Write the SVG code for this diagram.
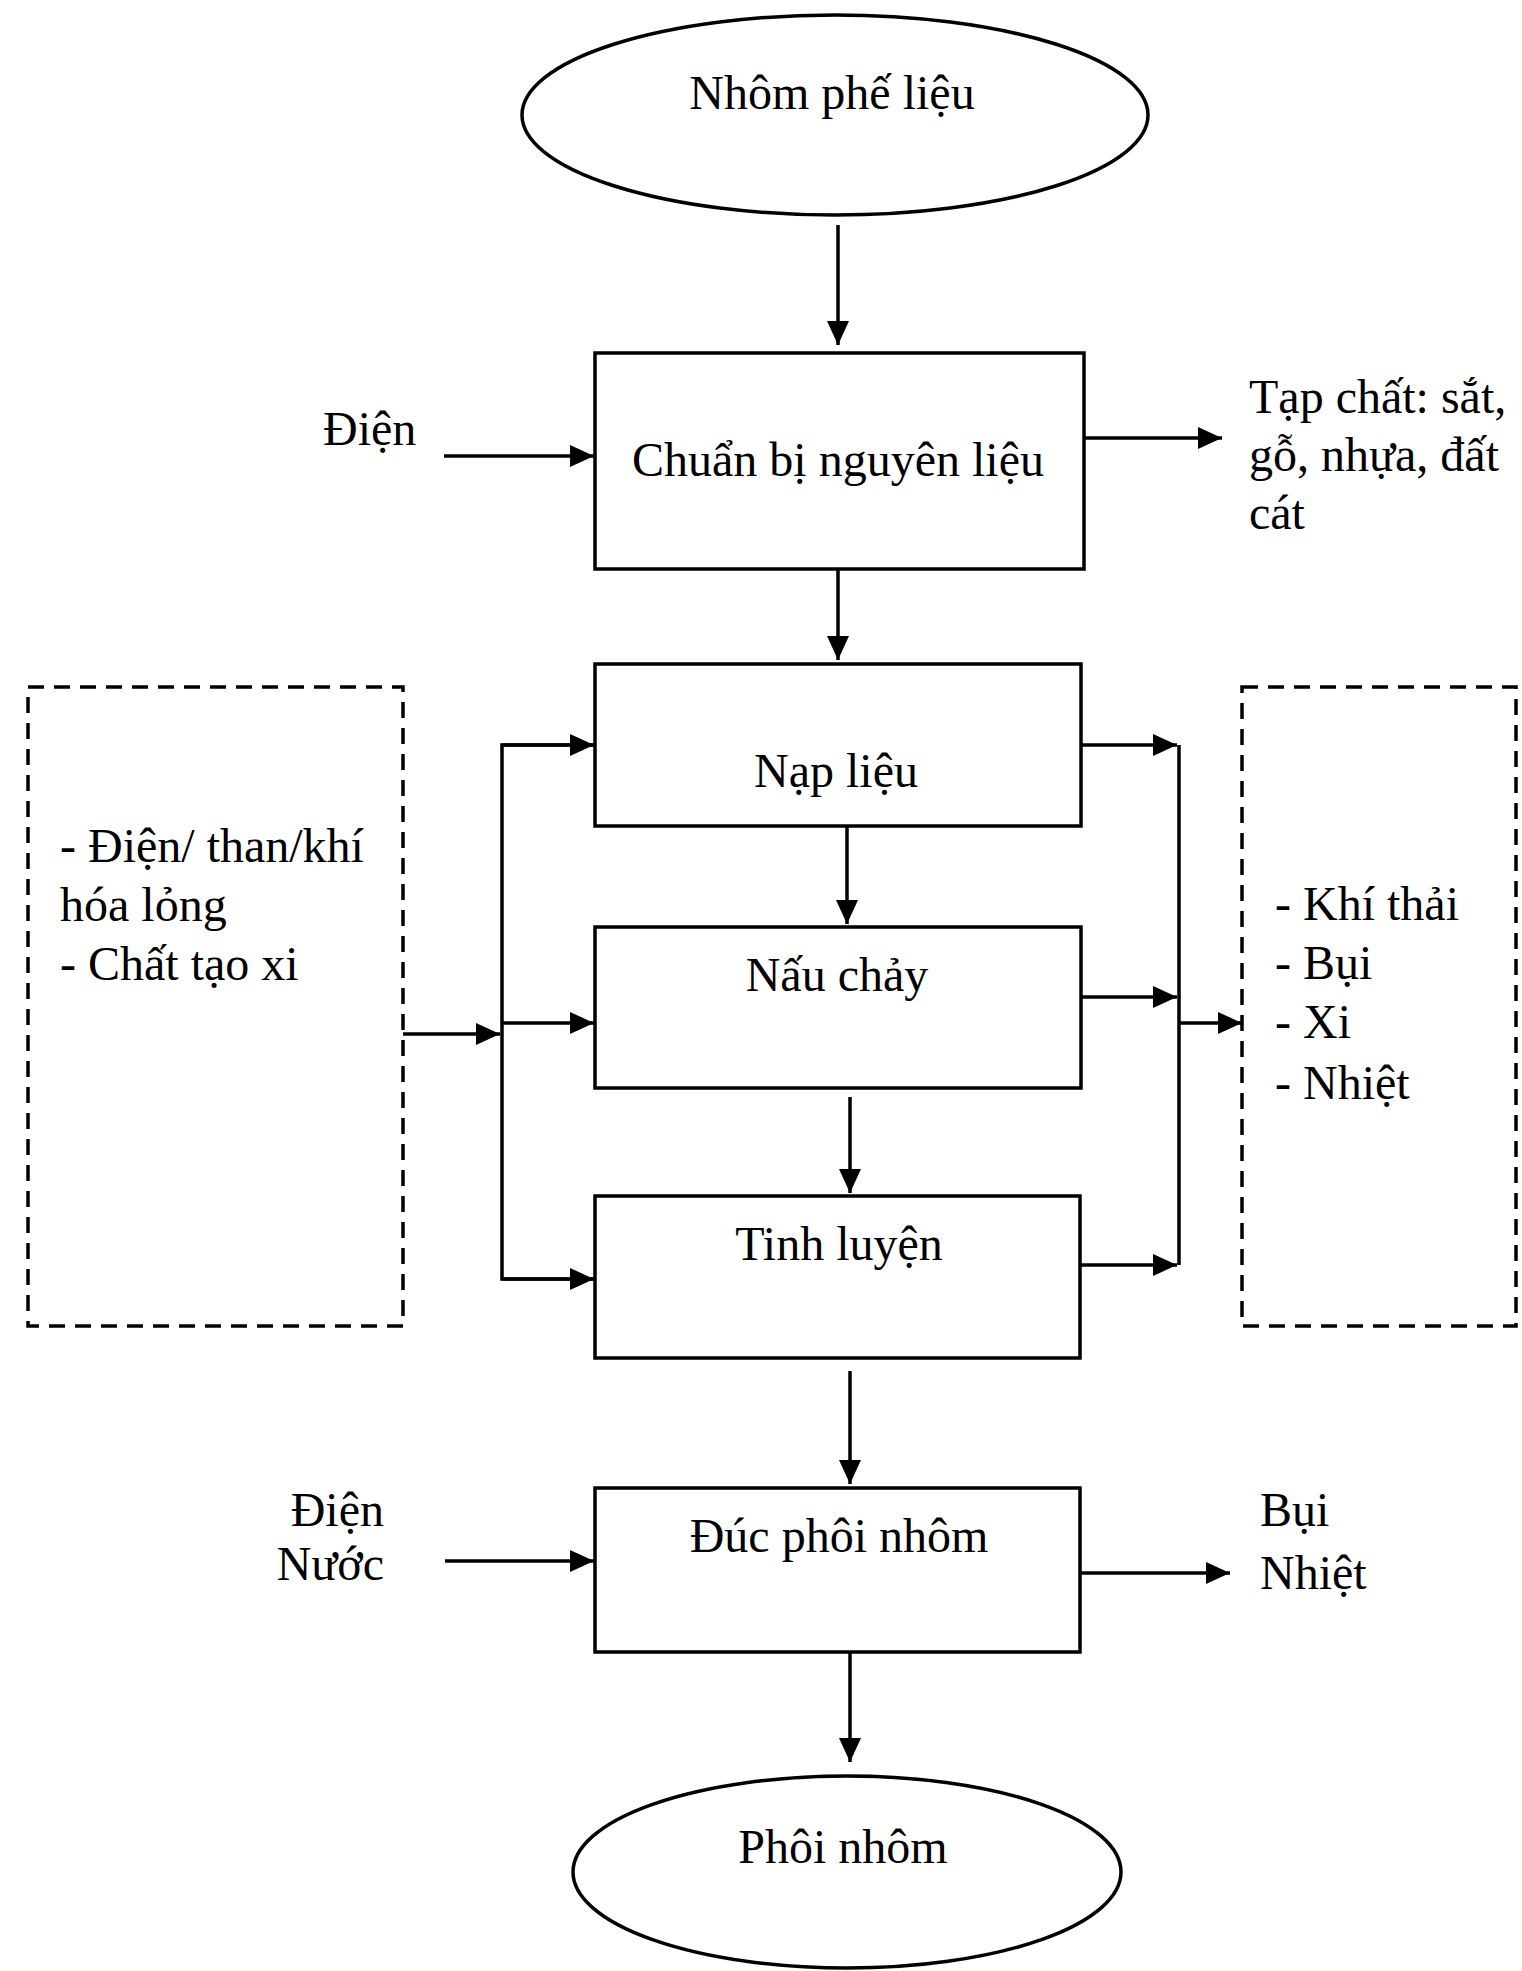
<svg xmlns="http://www.w3.org/2000/svg" width="1522" height="1971" viewBox="0 0 1522 1971">
<style>
.t{font-family:"Liberation Serif","Times New Roman",serif;font-size:48px;fill:#000}
.c{text-anchor:middle}
.e{text-anchor:end}
.box{fill:#fff;stroke:#000;stroke-width:3.5}
.dash{fill:none;stroke:#000;stroke-width:3.5;stroke-dasharray:16 10}
.ln{fill:none;stroke:#000;stroke-width:3.5}
.ar{fill:none;stroke:#000;stroke-width:3.5;marker-end:url(#ah)}
</style>
<defs>
<marker id="ah" markerUnits="userSpaceOnUse" markerWidth="26" markerHeight="24" refX="24" refY="11" orient="auto">
<path d="M0,0 L24,11 L0,22 z" fill="#000"/>
</marker>
</defs>
<rect width="1522" height="1971" fill="#fff"/>
<g id="connectors">
<line class="ar" x1="838" y1="225" x2="838" y2="345"/>
<line class="ar" x1="444" y1="456" x2="594" y2="456"/>
<line class="ar" x1="1083" y1="438" x2="1222" y2="438"/>
<line class="ar" x1="838" y1="570" x2="838" y2="660"/>
<line class="ar" x1="403" y1="1034" x2="500" y2="1034"/>
<polyline class="ln" points="593,745 502,745 502,1279 593,1279"/>
<line class="ar" x1="502" y1="745" x2="594" y2="745"/>
<line class="ar" x1="502" y1="1023" x2="594" y2="1023"/>
<line class="ar" x1="502" y1="1279" x2="594" y2="1279"/>
<line class="ar" x1="847" y1="826" x2="847" y2="924"/>
<line class="ar" x1="850" y1="1097" x2="850" y2="1193"/>
<line class="ar" x1="1081" y1="745" x2="1177" y2="745"/>
<line class="ar" x1="1081" y1="997" x2="1177" y2="997"/>
<line class="ar" x1="1081" y1="1265" x2="1177" y2="1265"/>
<line class="ln" x1="1179" y1="745" x2="1179" y2="1265"/>
<line class="ar" x1="1179" y1="1023" x2="1242" y2="1023"/>
<line class="ar" x1="850" y1="1371" x2="850" y2="1484"/>
<line class="ar" x1="445" y1="1561" x2="594" y2="1561"/>
<line class="ar" x1="1080" y1="1573" x2="1230" y2="1573"/>
<line class="ar" x1="850" y1="1652" x2="850" y2="1762"/>
</g>
<g id="n-start">
<ellipse class="box" cx="835" cy="115" rx="313" ry="100"/>
<text class="t c" x="832" y="109">Nhôm phế liệu</text>
</g>
<g id="n-prep">
<rect class="box" x="595" y="353" width="489" height="216"/>
<text class="t c" x="838" y="476">Chuẩn bị nguyên liệu</text>
</g>
<g id="n-in1">
<text class="t" x="323" y="445">Điện</text>
</g>
<g id="n-out1">
<text class="t" x="1249" y="413">Tạp chất: sắt,</text>
<text class="t" x="1249" y="471">gỗ, nhựa, đất</text>
<text class="t" x="1249" y="529">cát</text>
</g>
<g id="n-in2">
<rect class="dash" x="28" y="687" width="375" height="639"/>
<text class="t" x="60" y="862">- Điện/ than/khí</text>
<text class="t" x="60" y="921">hóa lỏng</text>
<text class="t" x="60" y="980">- Chất tạo xi</text>
</g>
<g id="n-feed">
<rect class="box" x="595" y="664" width="486" height="162"/>
<text class="t c" x="836" y="787">Nạp liệu</text>
</g>
<g id="n-melt">
<rect class="box" x="595" y="927" width="486" height="161"/>
<text class="t c" x="837" y="991">Nấu chảy</text>
</g>
<g id="n-refine">
<rect class="box" x="595" y="1196" width="485" height="162"/>
<text class="t c" x="839" y="1260">Tinh luyện</text>
</g>
<g id="n-out2">
<rect class="dash" x="1242" y="687" width="274" height="639"/>
<text class="t" x="1275" y="920">- Khí thải</text>
<text class="t" x="1275" y="979">- Bụi</text>
<text class="t" x="1275" y="1038">- Xi</text>
<text class="t" x="1275" y="1099">- Nhiệt</text>
</g>
<g id="n-cast">
<rect class="box" x="595" y="1488" width="485" height="164"/>
<text class="t c" x="839" y="1552">Đúc phôi nhôm</text>
</g>
<g id="n-in3">
<text class="t e" x="384" y="1526">Điện</text>
<text class="t e" x="384" y="1580">Nước</text>
</g>
<g id="n-out3">
<text class="t" x="1260" y="1526">Bụi</text>
<text class="t" x="1260" y="1589">Nhiệt</text>
</g>
<g id="n-end">
<ellipse class="box" cx="847" cy="1872" rx="274" ry="96"/>
<text class="t c" x="843" y="1863">Phôi nhôm</text>
</g>
</svg>
